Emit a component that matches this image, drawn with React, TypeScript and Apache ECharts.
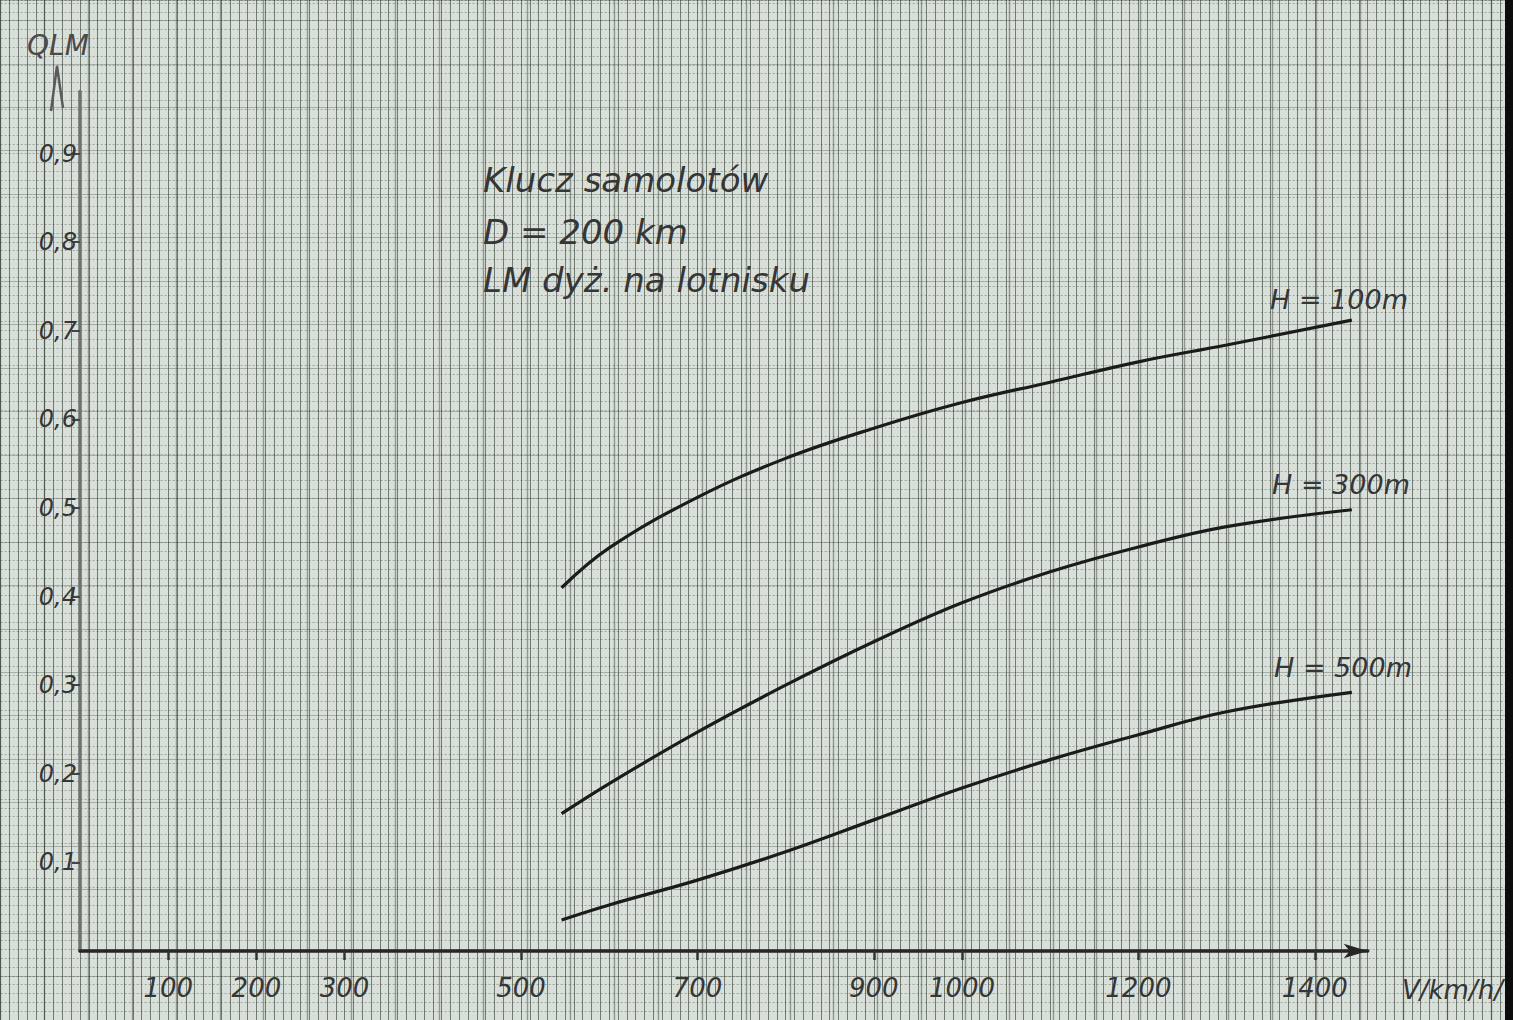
import React, { useEffect, useRef } from "react";
import * as echarts from "echarts";

// ---- data ----
const speeds = [546, 600, 700, 800, 900, 1000, 1100, 1200, 1300, 1442];
const qH100 = [0.41, 0.455, 0.512, 0.556, 0.59, 0.619, 0.642, 0.665, 0.684, 0.712];
const qH300 = [0.155, 0.189, 0.247, 0.3, 0.349, 0.393, 0.428, 0.456, 0.479, 0.498];
const qH500 = [0.035, 0.052, 0.08, 0.112, 0.148, 0.184, 0.216, 0.244, 0.27, 0.292];
const seriesNames = ["H = 100m", "H = 300m", "H = 500m"];
const xTickValues = [100, 200, 300, 500, 700, 900, 1000, 1200, 1400];
const yTickValues = [0.1, 0.2, 0.3, 0.4, 0.5, 0.6, 0.7, 0.8, 0.9];
const annotationLines = ["Klucz samolotów", "D = 200 km", "LM dyż. na lotnisku"];
const yAxisTitle = "QLM";
const xAxisTitle = "V/km/h/";

// ---- layout ----
const W = 1513;
const H = 1020;
const X0 = 80; // pixel of V = 0
const PX_X = 0.882; // px per km/h
const Y0 = 951; // pixel of Q = 0
const PX_Y = 886; // px per unit of Q
const X_MAX = 1460;
const Y_MAX = 0.97;

const FONT = "'DejaVu Sans', 'Liberation Sans', sans-serif";
const INK = "#1b1b1b";
const TEXT = "#363636";

export default function App() {
  const ref = useRef<HTMLDivElement>(null);

  useEffect(() => {
    if (!ref.current) return;
    const chart = echarts.init(ref.current, null, { renderer: "svg" });

    const paperLeft = X0 - 90 * PX_X;
    const paperXMax = -90 + (W - paperLeft) / PX_X;
    const paperBottom = H - (Y0 + 0.08 * PX_Y);
    const paperYMax = -0.08 + (H - paperBottom) / PX_Y;

    const hiddenAxisParts = {
      axisLine: { show: false },
      axisTick: { show: false },
      axisLabel: { show: false },
    };

    const seriesData = [qH100, qH300, qH500];

    const option: any = {
      animation: false,
      backgroundColor: "#d9e0d9",
      grid: [
        {
          left: X0,
          right: W - (X0 + X_MAX * PX_X),
          top: Y0 - Y_MAX * PX_Y,
          bottom: H - Y0,
          containLabel: false,
        },
        { left: paperLeft, right: 0, top: 0, bottom: paperBottom, containLabel: false },
      ],
      xAxis: [
        {
          type: "value",
          gridIndex: 0,
          min: 0,
          max: X_MAX,
          axisLine: {
            show: true,
            symbol: ["none", "arrow"],
            symbolSize: [11, 24],
            lineStyle: { color: "#262626", width: 3.5 },
          },
          axisTick: {
            show: true,
            customValues: xTickValues,
            length: 9,
            lineStyle: { color: "#333", width: 2.5 },
          },
          axisLabel: {
            show: true,
            customValues: xTickValues,
            formatter: (v: number) => String(v),
            fontSize: 26,
            fontStyle: "italic",
            fontFamily: FONT,
            color: TEXT,
            margin: 24,
          },
          splitLine: { show: false },
        },
        {
          type: "value",
          gridIndex: 1,
          min: -90,
          max: paperXMax,
          interval: 10,
          ...hiddenAxisParts,
          splitLine: { show: true, lineStyle: { color: "rgba(40,50,40,0.58)", width: 1 } },
        },
        {
          type: "value",
          gridIndex: 1,
          min: -100,
          max: paperXMax,
          interval: 50,
          ...hiddenAxisParts,
          splitLine: { show: true, lineStyle: { color: "rgba(30,40,30,0.4)", width: 1.4 } },
        },
      ],
      yAxis: [
        {
          type: "value",
          gridIndex: 0,
          min: 0,
          max: Y_MAX,
          axisLine: { show: true, lineStyle: { color: "#6e726e", width: 3.5 } },
          axisTick: {
            show: true,
            customValues: yTickValues,
            length: 8,
            lineStyle: { color: "#444", width: 2 },
          },
          axisLabel: {
            show: true,
            customValues: yTickValues,
            formatter: (v: number) => v.toFixed(1).replace(".", ","),
            fontSize: 24,
            fontStyle: "italic",
            fontFamily: FONT,
            color: TEXT,
            margin: 3,
          },
          splitLine: { show: false },
        },
        {
          type: "value",
          gridIndex: 1,
          min: -0.08,
          max: paperYMax,
          interval: 0.01,
          ...hiddenAxisParts,
          splitLine: {
            show: true,
            lineStyle: { color: "rgba(45,55,45,0.35)", width: 1, type: [2, 2] },
          },
        },
        {
          type: "value",
          gridIndex: 1,
          min: -0.1,
          max: paperYMax,
          interval: 0.05,
          ...hiddenAxisParts,
          splitLine: { show: true, lineStyle: { color: "rgba(45,55,45,0.3)", width: 1.2 } },
        },
      ],
      series: seriesData.map((vals, i) => ({
        name: seriesNames[i],
        type: "line",
        xAxisIndex: 0,
        yAxisIndex: 0,
        smooth: 0.4,
        showSymbol: false,
        silent: true,
        z: 5,
        lineStyle: { color: INK, width: 3.2 },
        data: speeds.map((v, j) => [v, vals[j]]),
      })),
      graphic: [
        {
          type: "rect",
          shape: { x: 1505, y: 0, width: 8, height: H },
          style: { fill: "#0c0c0c" },
          z: 10,
        },
        {
          type: "polyline",
          shape: { points: [[51, 111], [57, 66], [63, 108]] },
          style: { stroke: "#5a5a5a", lineWidth: 2.5, fill: "none" },
          z: 10,
        },
        {
          type: "text",
          x: 27,
          y: 45,
          style: {
            text: yAxisTitle,
            font: `italic 28px ${FONT}`,
            fill: "#4a4a4a",
            verticalAlign: "middle",
          },
          z: 10,
        },
        {
          type: "text",
          x: 1402,
          y: 990,
          style: {
            text: xAxisTitle,
            font: `italic 26px ${FONT}`,
            fill: TEXT,
            verticalAlign: "middle",
          },
          z: 10,
        },
        ...annotationLines.map((t, i) => ({
          type: "text",
          x: 483,
          y: [180, 232, 280][i],
          style: {
            text: t,
            font: `italic 34px ${FONT}`,
            fill: TEXT,
            verticalAlign: "middle",
          },
          z: 10,
        })),
        ...seriesNames.map((t, i) => ({
          type: "text",
          x: [1270, 1272, 1274][i],
          y: [299, 484, 667][i],
          style: {
            text: t,
            font: `italic 27px ${FONT}`,
            fill: TEXT,
            verticalAlign: "middle",
          },
          z: 10,
        })),
      ],
    };

    chart.setOption(option);
    return () => chart.dispose();
  }, []);

  return (
    <div
      ref={ref}
      style={{ position: "fixed", left: 0, top: 0, width: W, height: H }}
    />
  );
}
